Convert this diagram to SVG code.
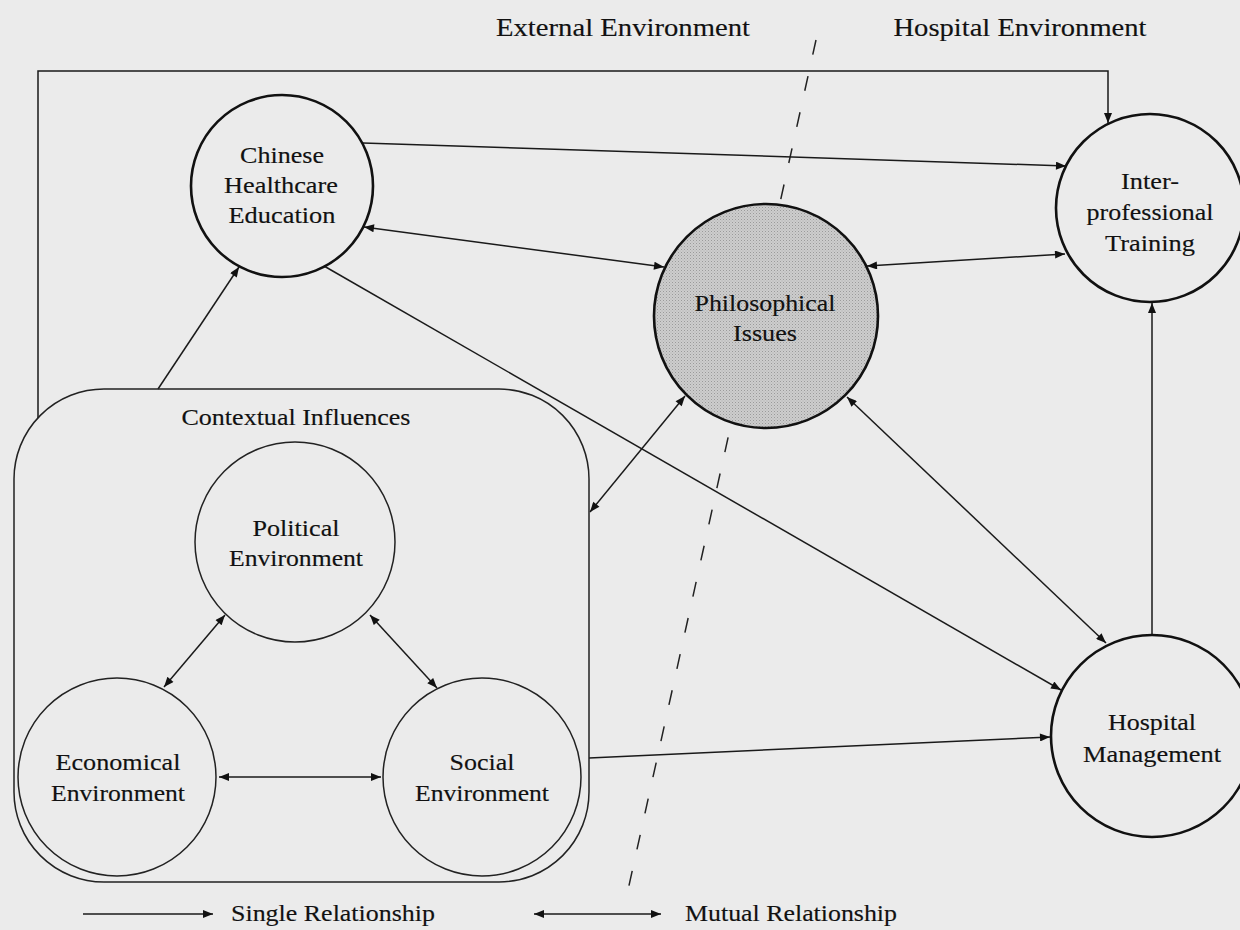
<svg xmlns="http://www.w3.org/2000/svg" width="1240" height="930" viewBox="0 0 1240 930">
  <style>
    .lbl { font-family: "Liberation Serif", "Times New Roman", serif; font-size: 23px; fill: #111; stroke: #111; stroke-width: 0.15; text-anchor: middle; }
    .title { font-size: 25px; }
    .major { fill: none; stroke: #111; stroke-width: 2.6; }
    .minor { fill: none; stroke: #222; stroke-width: 1.5; }
    .conn { fill: none; stroke: #1a1a1a; stroke-width: 1.5; }
    .one { marker-end: url(#ah); }
    .two { marker-start: url(#ah); marker-end: url(#ah); }
  </style>
  <defs>
    <marker id="ah" viewBox="0 0 10 8" refX="10" refY="4" markerWidth="11" markerHeight="8" markerUnits="userSpaceOnUse" orient="auto-start-reverse">
      <path d="M0,0 L10,4 L0,8 z" fill="#111"/>
    </marker>
    <pattern id="stipple" width="3" height="3" patternUnits="userSpaceOnUse">
      <rect width="3" height="3" fill="#cdcdcd"/>
      <rect x="0" y="0" width="1" height="1" fill="#9a9a9a"/>
      <rect x="1.5" y="1.5" width="1" height="1" fill="#b0b0b0"/>
    </pattern>
  </defs>

  <rect width="1240" height="930" fill="#ebebeb"/>

  <!-- boundary between the two environments -->
  <g id="boundary">
    <path d="M816,40 L628,890" fill="none" stroke="#222" stroke-width="1.5" stroke-dasharray="15 22"/>
    <text class="lbl title" x="623" y="36" textLength="254" lengthAdjust="spacingAndGlyphs">External Environment</text>
    <text class="lbl title" x="1020" y="36" textLength="253" lengthAdjust="spacingAndGlyphs">Hospital Environment</text>
  </g>

  <!-- connectors -->
  <g id="connectors" class="conn">
    <path class="conn one" d="M38,418 V71 H1108 V123"/>
    <path class="conn one" d="M158,389 L239,267"/>
    <path class="conn one" d="M363,143 L1066,166"/>
    <path class="conn two" d="M364,227 L664,267"/>
    <path class="conn two" d="M867,266 L1065,254"/>
    <path class="conn one" d="M1152,634 V303"/>
    <path class="conn one" d="M324,266 L1061,690"/>
    <path class="conn two" d="M847,397 L1106,643"/>
    <path class="conn two" d="M685,396 L590,512"/>
    <path class="conn one" d="M589,758 L1050,737"/>
    <path class="conn two" d="M225,615 L164,687"/>
    <path class="conn two" d="M370,615 L437,688"/>
    <path class="conn two" d="M219,777 L381,777"/>
  </g>

  <!-- contextual influences container -->
  <g id="contextual">
    <rect x="14" y="389" width="575" height="493" rx="90" ry="90" class="minor"/>
    <text class="lbl" x="296" y="425" textLength="229" lengthAdjust="spacingAndGlyphs">Contextual Influences</text>
  </g>

  <g id="political">
    <circle cx="295" cy="542" r="100" class="minor"/>
    <text class="lbl" x="296" y="536" textLength="87" lengthAdjust="spacingAndGlyphs">Political</text>
    <text class="lbl" x="296" y="566" textLength="134" lengthAdjust="spacingAndGlyphs">Environment</text>
  </g>

  <g id="economical">
    <circle cx="117" cy="777" r="99" class="minor"/>
    <text class="lbl" x="118" y="770" textLength="125" lengthAdjust="spacingAndGlyphs">Economical</text>
    <text class="lbl" x="118" y="801" textLength="134" lengthAdjust="spacingAndGlyphs">Environment</text>
  </g>

  <g id="social">
    <circle cx="482" cy="777" r="99" class="minor"/>
    <text class="lbl" x="482" y="770" textLength="65" lengthAdjust="spacingAndGlyphs">Social</text>
    <text class="lbl" x="482" y="801" textLength="134" lengthAdjust="spacingAndGlyphs">Environment</text>
  </g>

  <g id="chinese-healthcare-education">
    <circle cx="282" cy="186" r="91" class="major"/>
    <text class="lbl" x="282" y="163" textLength="84" lengthAdjust="spacingAndGlyphs">Chinese</text>
    <text class="lbl" x="281" y="193" textLength="114" lengthAdjust="spacingAndGlyphs">Healthcare</text>
    <text class="lbl" x="282" y="223" textLength="107" lengthAdjust="spacingAndGlyphs">Education</text>
  </g>

  <g id="philosophical-issues">
    <circle cx="766" cy="316" r="112" fill="url(#stipple)" stroke="#111" stroke-width="2.6"/>
    <text class="lbl" x="765" y="311" textLength="141" lengthAdjust="spacingAndGlyphs">Philosophical</text>
    <text class="lbl" x="765" y="341" textLength="64" lengthAdjust="spacingAndGlyphs">Issues</text>
  </g>

  <g id="inter-professional-training">
    <circle cx="1150" cy="208" r="94" class="major"/>
    <text class="lbl" x="1150" y="189" textLength="58" lengthAdjust="spacingAndGlyphs">Inter-</text>
    <text class="lbl" x="1150" y="220" textLength="127" lengthAdjust="spacingAndGlyphs">professional</text>
    <text class="lbl" x="1150" y="251" textLength="90" lengthAdjust="spacingAndGlyphs">Training</text>
  </g>

  <g id="hospital-management">
    <circle cx="1152" cy="736" r="101" class="major"/>
    <text class="lbl" x="1152" y="730" textLength="88" lengthAdjust="spacingAndGlyphs">Hospital</text>
    <text class="lbl" x="1152" y="762" textLength="138" lengthAdjust="spacingAndGlyphs">Management</text>
  </g>

  <!-- legend -->
  <g id="legend">
    <path class="conn one" d="M83,914 H213"/>
    <text class="lbl" x="333" y="921" textLength="204" lengthAdjust="spacingAndGlyphs">Single Relationship</text>
    <path class="conn two" d="M534,914 H661"/>
    <text class="lbl" x="791" y="921" textLength="212" lengthAdjust="spacingAndGlyphs">Mutual Relationship</text>
  </g>
</svg>
